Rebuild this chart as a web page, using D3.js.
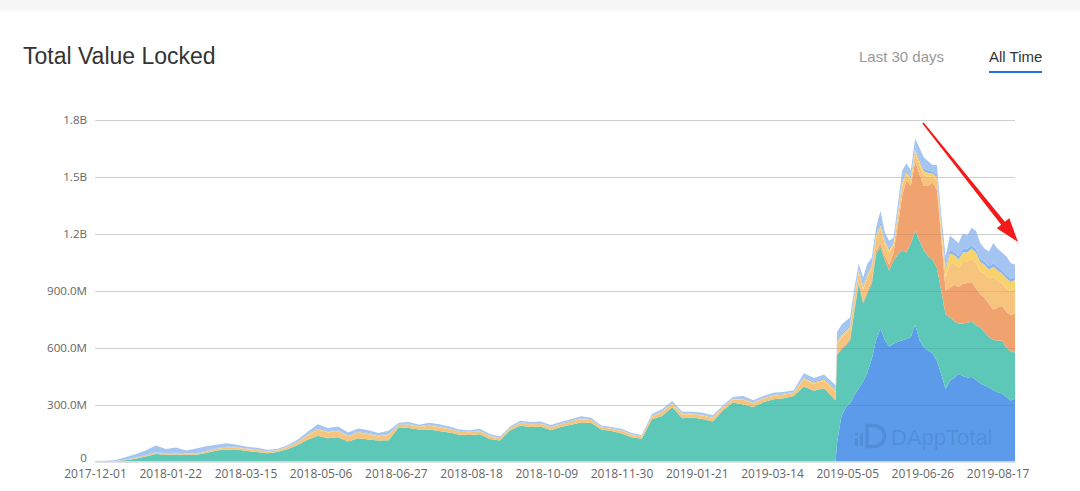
<!DOCTYPE html>
<html><head><meta charset="utf-8">
<script src="https://cdn.jsdelivr.net/npm/d3@7"></script>
<style>
html,body{margin:0;padding:0;background:#fff;}
svg{display:block;}
</style></head><body>
<svg id="c" width="1080" height="491"></svg>
<script>
// ---- data (values in millions USD) ----
const categories = [
"2017-12-01","2017-12-08","2017-12-15","2017-12-22","2017-12-29","2018-01-05","2018-01-12","2018-01-19","2018-01-26","2018-02-02",
"2018-02-09","2018-02-16","2018-02-23","2018-03-02","2018-03-09","2018-03-16","2018-03-23","2018-03-30","2018-04-06","2018-04-13",
"2018-04-20","2018-04-27","2018-05-04","2018-05-11","2018-05-18","2018-05-25","2018-06-01","2018-06-08","2018-06-15","2018-06-22",
"2018-06-29","2018-07-06","2018-07-13","2018-07-20","2018-07-27","2018-08-03","2018-08-10","2018-08-17","2018-08-24","2018-08-31",
"2018-09-07","2018-09-14","2018-09-21","2018-09-28","2018-10-05","2018-10-12","2018-10-19","2018-10-26","2018-11-02","2018-11-09",
"2018-11-16","2018-11-23","2018-11-30","2018-12-07","2018-12-14","2018-12-21","2018-12-28","2019-01-04","2019-01-11","2019-01-18",
"2019-01-25","2019-02-01","2019-02-08","2019-02-15","2019-02-22","2019-03-01","2019-03-08","2019-03-15","2019-03-22","2019-03-29",
"2019-04-05","2019-04-12","2019-04-19","2019-04-26","2019-04-27",
"2019-04-28","2019-05-01","2019-05-04","2019-05-07","2019-05-10","2019-05-13","2019-05-16","2019-05-19","2019-05-22","2019-05-25",
"2019-05-28","2019-05-31","2019-06-03","2019-06-06","2019-06-09","2019-06-12","2019-06-15","2019-06-18","2019-06-21","2019-06-24",
"2019-06-27","2019-06-30","2019-07-03","2019-07-06","2019-07-09","2019-07-12","2019-07-15","2019-07-18","2019-07-21","2019-07-24",
"2019-07-27","2019-07-30","2019-08-02","2019-08-05","2019-08-08","2019-08-11","2019-08-14","2019-08-17","2019-08-20","2019-08-23",
"2019-08-26","2019-08-29"
];

const blueSeries = [
0,0,0,0,0,0,0,0,0,0, 0,0,0,0,0,0,0,0,0,0, 0,0,0,0,0,0,0,0,0,0, 0,0,0,0,0,0,0,0,0,0,
0,0,0,0,0,0,0,0,0,0, 0,0,0,0,0,0,0,0,0,0, 0,0,0,0,0,0,0,0,0,0, 0,0,0,0,0,
100,240,285,305,350,385,420,470,540,640, 700,640,605,620,630,637,645,655,720,640,
600,584,570,530,460,380,426,440,460,450, 442,445,430,410,400,390,375,365,358,340, 321,331
];
const tealSeries = [
0,0,0,6,15,26,40,35,37,36, 35,45,58,63,63,55,50,43,50,65, 87,114,135,122,128,105,122,116,110,112,
180,176,168,168,160,152,141,140,143,118, 110,165,188,182,184,165,182,194,205,203, 168,160,148,128,120,222,240,285,228,232,
224,210,268,310,300,287,312,327,333,345, 395,372,385,330,322,
460,350,325,332,444,551,411,414,396,454, 426,420,400,437,460,473,455,492,495,520,
510,496,490,490,440,395,332,300,266,276, 288,290,290,295,280,265,265,272,277,260, 259,243
];
const orangeSeries = [
0,0,0,0,0,0,0,0,0,0, 0,0,0,0,0,0,0,0,0,0, 0,0,0,0,0,0,0,0,0,0, 0,0,0,0,0,0,0,0,0,0,
0,0,0,0,0,0,0,0,0,0, 0,0,0,0,0,0,0,0,0,0, 0,0,0,0,0,0,0,0,0,0, 0,0,0,0,0,
6,7,8,8,10,10,12,14,14,15, 20,20,30,40,150,290,380,303,365,350,
340,370,410,410,280,125,157,190,194,209, 210,210,190,175,180,175,160,173,185,190, 190,206
];
const lightOrangeSeries = [
0,0,1,3,4,5,6,5,6,5, 6,8,9,10,10,10,10,9,8,11, 14,24,34,30,31,26,29,27,22,28,
13,18,14,20,20,18,15,14,16,15, 12,11,14,14,14,15,14,15,18,15, 12,12,13,12,11,15,19,18,19,16,
18,19,15,16,25,19,18,19,18,16, 38,37,40,43,43,
50,55,55,52,55,50,60,70,65,65, 80,65,65,40,45,50,30,28,45,50,
55,48,32,48,40,70,125,110,100,115, 110,120,135,120,130,135,170,140,120,120, 125,130
];
const yellowSeries = [
0,0,0,0,1,1,1,1,1,1, 1,1,2,2,2,2,2,2,1,2, 2,3,4,4,4,3,4,3,3,3,
2,2,2,3,3,2,2,2,2,2, 2,2,2,2,2,2,2,2,3,2, 2,2,2,2,2,2,3,3,3,3,
3,3,2,3,4,3,3,3,3,3, 6,6,6,7,7,
12,12,12,12,13,12,14,15,15,15, 18,15,15,12,15,18,15,14,18,20,
22,20,14,20,25,40,55,45,45,50, 50,55,55,50,45,45,55,55,50,55, 50,45
];
const skyBlueSeries = [
0,0,0,1,1,2,2,2,2,1, 2,2,2,2,2,2,2,1,1,1, 2,3,5,4,4,4,4,4,3,4,
2,3,2,3,3,3,2,2,2,2, 2,2,2,2,2,2,2,3,3,2, 2,2,2,2,2,3,3,3,3,3,
3,3,2,3,4,3,3,3,3,3, 6,6,7,7,7,
8,8,8,8,8,8,9,10,10,10, 12,10,10,8,10,12,10,9,12,14,
15,14,10,12,15,15,20,18,18,20, 18,20,20,18,17,17,20,20,18,18, 18,16
];
const lightBlueSeries = [
3,4,5,12,17,24,35,23,28,15, 24,24,17,19,11,9,8,7,6,7, 9,13,18,16,17,14,15,14,12,15,
7,9,8,10,10,9,8,7,9,8, 6,5,8,8,8,8,8,8,9,8, 6,6,7,6,5,8,10,9,9,8,
8,9,8,8,12,10,9,10,9,8, 20,19,20,21,21,
44,48,47,41,35,25,42,48,33,32, 64,35,37,21,40,50,35,30,45,56,
58,48,34,50,40,55,75,67,67,80, 72,90,95,82,68,78,105,95,92,97, 82,65
];

const seriesKeys = ["blue","teal","orange","lightOrange","yellow","skyBlue","lightBlue"];
const seriesColors = ["#5b9bea","#5ec8b8","#f0a26f","#f6c47c","#f8d26c","#8cb5ec","#a4c4f2"];

const xTickLabels = ["2017-12-01","2018-01-22","2018-03-15","2018-05-06","2018-06-27","2018-08-18","2018-10-09",
  "2018-11-30","2019-01-21","2019-03-14","2019-05-05","2019-06-26","2019-08-17"];
const yTickValues = [0, 300e6, 600e6, 900e6, 1200e6, 1500e6, 1800e6];
const yTickLabels = ["0","300.0M","600.0M","900.0M","1.2B","1.5B","1.8B"];

(function () {
// ---- build ----
const parse = d3.timeParse("%Y-%m-%d");
const columns = [blueSeries, tealSeries, orangeSeries, lightOrangeSeries, yellowSeries, skyBlueSeries, lightBlueSeries];
const rows = categories.map((c, i) => {
  const r = {date: parse(c)};
  seriesKeys.forEach((k, j) => r[k] = columns[j][i] * 1e6);
  return r;
});

const svg = d3.select("#c");
const W = 1080, H = 491;
const pLeft = 95, pRight = 1015, pTop = 119.5, pBottom = 461.5;

// page chrome
svg.append("rect").attr("x",0).attr("y",0).attr("width",W).attr("height",H).attr("fill","#fff");
svg.append("rect").attr("x",0).attr("y",0).attr("width",W).attr("height",10.5).attr("fill","#f6f6f6");

svg.append("text").attr("x",23).attr("y",63.5).text("Total Value Locked")
  .attr("font-family","'Liberation Sans', Arial, sans-serif").attr("font-size",23).attr("fill","#333");

svg.append("text").attr("x",859).attr("y",61.5).text("Last 30 days")
  .attr("font-family","'Liberation Sans', Arial, sans-serif").attr("font-size",15).attr("fill","#999");
svg.append("text").attr("x",989).attr("y",61.5).text("All Time")
  .attr("font-family","'Liberation Sans', Arial, sans-serif").attr("font-size",15).attr("fill","#333");
svg.append("rect").attr("x",989).attr("y",71).attr("width",53).attr("height",2).attr("fill","#1f6ff2");

// scales
const x = d3.scaleTime().domain(d3.extent(rows, d => d.date)).range([pLeft, pRight]);
const y = d3.scaleLinear().domain([0, 1800e6]).range([pBottom, pTop]);

// grid (under)
yTickValues.forEach((v) => {
  if (v === 0) return;
  svg.append("line").attr("x1",pLeft).attr("x2",pRight).attr("y1",Math.round(y(v))+0.5).attr("y2",Math.round(y(v))+0.5)
    .attr("stroke","#dedede").attr("stroke-width",1);
});

// stacked areas
const stack = d3.stack().keys(seriesKeys);
const layers = stack(rows);
const area = d3.area().x(d => x(d.data.date)).y0(d => y(d[0])).y1(d => y(d[1])).curve(d3.curveLinear);
svg.append("g").selectAll("path").data(layers).join("path")
  .attr("d", area).attr("fill", (d, i) => seriesColors[i]);

// grid (faint over areas)
yTickValues.forEach((v) => {
  if (v === 0) return;
  svg.append("line").attr("x1",pLeft).attr("x2",pRight).attr("y1",Math.round(y(v))+0.5).attr("y2",Math.round(y(v))+0.5)
    .attr("stroke","rgba(0,0,0,0.07)").attr("stroke-width",1);
});

// watermark
const wmc = "rgba(30,50,90,0.13)";
const wm = svg.append("g").attr("fill",wmc).attr("stroke","none");
wm.append("path").attr("d","M867,425.5 h7 a10.5,10.5 0 0 1 0,21 h-7 z")
  .attr("fill","none").attr("stroke",wmc).attr("stroke-width",3.5);
wm.append("rect").attr("x",855).attr("y",438).attr("width",3).attr("height",8);
wm.append("rect").attr("x",860).attr("y",433).attr("width",3).attr("height",13);
wm.append("circle").attr("cx",856.5).attr("cy",434).attr("r",1.6);
wm.append("text").attr("x",891).attr("y",444.5).text("DAppTotal")
  .attr("font-family","'Liberation Sans', Arial, sans-serif").attr("font-size",22);

// x axis
svg.append("line").attr("x1",pLeft).attr("x2",pRight).attr("y1",pBottom+0.5).attr("y2",pBottom+0.5)
  .attr("stroke","#d6d6d6").attr("stroke-width",1.5);
const xAxis = d3.axisBottom(x).tickValues(xTickLabels.map(parse)).tickFormat(d3.timeFormat("%Y-%m-%d")).tickSize(0).tickPadding(8);
const gx = svg.append("g").attr("transform",`translate(0,${pBottom})`).call(xAxis);
gx.select(".domain").remove();
gx.selectAll("text").attr("font-family","'Open Sans', 'Noto Sans', sans-serif").attr("font-size",12).attr("fill","#666");

// y axis
const yAxis = d3.axisLeft(y).tickValues(yTickValues).tickFormat((d, i) => yTickLabels[i]).tickSize(0).tickPadding(8);
const gy = svg.append("g").attr("transform",`translate(${pLeft},0)`).call(yAxis);
gy.select(".domain").remove();
gy.selectAll("text").attr("font-family","'Open Sans', 'Noto Sans', sans-serif").attr("font-size",11.6).attr("fill","#666")
  .attr("dy", (d) => d === 0 ? "0.0em" : "0.32em");

// red arrow annotation
const ax0 = 923, ay0 = 123, ax1 = 1018, ay1 = 242;
const len = Math.hypot(ax1-ax0, ay1-ay0), ux = (ax1-ax0)/len, uy = (ay1-ay0)/len, px = -uy, py = ux;
const hl = 24, hw = 8;
const bx = ax1 - ux*hl, by = ay1 - uy*hl;
const w0 = 0.9, w1 = 2.3;
const pts = [
  [ax0+px*w0, ay0+py*w0], [bx+px*w1, by+py*w1], [bx+px*hw, by+py*hw], [ax1, ay1],
  [bx-px*hw, by-py*hw], [bx-px*w1, by-py*w1], [ax0-px*w0, ay0-py*w0]
];
svg.append("polygon").attr("points", pts.map(p => p.join(",")).join(" ")).attr("fill","#f41a1a");
})();
</script>
</body></html>
